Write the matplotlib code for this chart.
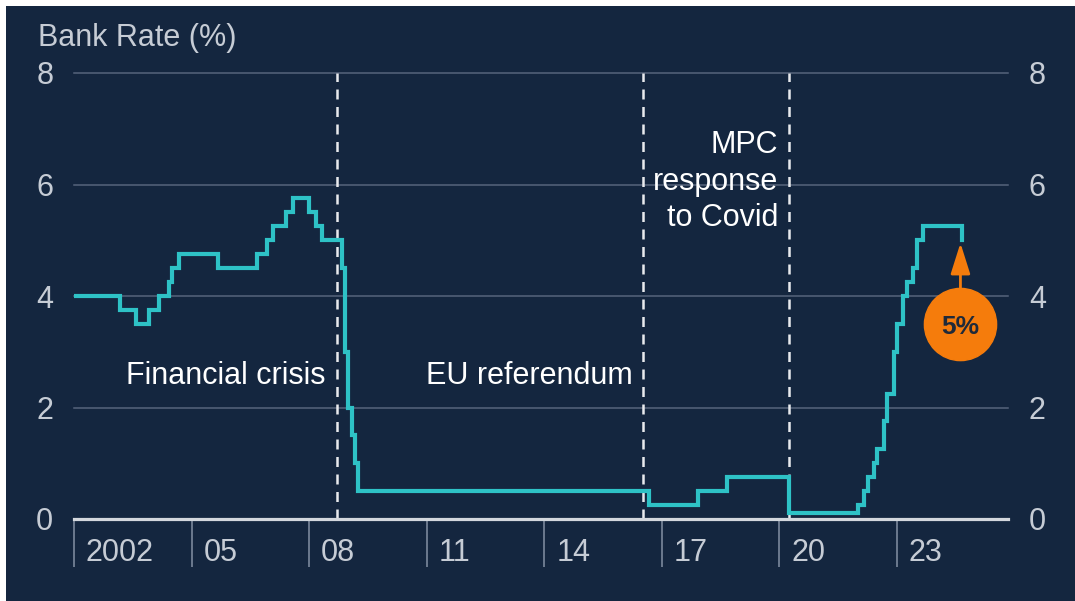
import matplotlib
matplotlib.use("Agg")
import matplotlib.pyplot as plt
from matplotlib.patches import Rectangle
import pandas as pd

plt.rcParams["font.family"] = ["Liberation Sans", "DejaVu Sans"]

BG = "#14263f"; TXT = "#c6ccd5"; LINE = "#2ec2c6"; ORANGE = "#f57c0c"

# month from which each Bank Rate level shows in the chart, and the level (%)
step_months = ["2002-01", "2003-03", "2003-08", "2003-12", "2004-03", "2004-06", "2004-07",
               "2004-09", "2005-09", "2006-09", "2006-12", "2007-02", "2007-06", "2007-08",
               "2008-01", "2008-03", "2008-05", "2008-11", "2008-12", "2009-01", "2009-02",
               "2009-03", "2009-04", "2016-09", "2017-12", "2018-09", "2020-04", "2022-01",
               "2022-03", "2022-04", "2022-06", "2022-07", "2022-09", "2022-10", "2022-12",
               "2023-01", "2023-03", "2023-04", "2023-06", "2023-07", "2023-09", "2024-09"]
rates = [4.0, 3.75, 3.5, 3.75, 4.0, 4.25, 4.5,
         4.75, 4.5, 4.75, 5.0, 5.25, 5.5, 5.75,
         5.5, 5.25, 5.0, 4.5, 3.0, 2.0, 1.5,
         1.0, 0.5, 0.25, 0.5, 0.75, 0.1, 0.25,
         0.5, 0.75, 1.0, 1.25, 1.75, 2.25, 3.0,
         3.5, 4.0, 4.25, 4.5, 5.0, 5.25, 5.0]

event_dates = ["2008-09-15", "2016-07-05", "2020-03-28"]
event_labels = ["Financial crisis", "EU referendum", "MPC\nresponse\nto Covid"]

tick_years = [2002, 2005, 2008, 2011, 2014, 2017, 2020, 2023]
tick_labels = ["2002", "05", "08", "11", "14", "17", "20", "23"]
y_ticks = [0, 2, 4, 6, 8]
latest = "5%"

def to_year(s):
    d = pd.Timestamp(s)
    return d.year + (d.dayofyear - 1) / (366 if d.is_leap_year else 365)

xs = [to_year(m + "-01") for m in step_months]
ev = [to_year(d) for d in event_dates]

fig = plt.figure(figsize=(10.75, 6.01), dpi=100, facecolor="white")
fig.patches.append(Rectangle((6 / 1075, 0), 1, 1 - 6 / 601, transform=fig.transFigure,
                             facecolor=BG, edgecolor="none", zorder=-10))
ax = fig.add_axes([74 / 1075, 82 / 601, 934 / 1075, 446 / 601])
ax.set_facecolor("none")
ax.set_xlim(2002, 2025.83); ax.set_ylim(0, 8)
for s in ax.spines.values(): s.set_visible(False)

for v in y_ticks[1:]:
    ax.axhline(v, color="#56647c", lw=1.1, clip_on=False, zorder=1)
ax.axhline(0, color="#d3d7dd", lw=2.3, clip_on=False, zorder=4)

ax.set_yticks(y_ticks)
ax.tick_params(axis="y", length=0, pad=15, labelsize=22, labelcolor=TXT,
               labelleft=True, labelright=True)
ax.set_xticks(tick_years)
ax.set_xticklabels([""] * len(tick_years))
ax.tick_params(axis="x", direction="out", length=34.5, width=1.4, color="#6c7a8f")
for yr, lab in zip(tick_years, tick_labels):
    ax.annotate(lab, xy=(yr, 0), xycoords=("data", "axes fraction"),
                xytext=(8.5, -24.5), textcoords="offset points",
                ha="left", va="center", fontsize=22, color=TXT)

for x in ev:
    ax.axvline(x, color="#e8eaee", lw=1.8, dashes=(4, 3), zorder=2)

ax.step(xs, rates, where="post", color=LINE, lw=3, zorder=3, solid_joinstyle="miter")

ax.text(ev[0] - 0.28, 2.57, event_labels[0], ha="right", va="center", fontsize=22, color="white")
ax.text(ev[1] - 0.26, 2.57, event_labels[1], ha="right", va="center", fontsize=22, color="white")
ax.text(ev[2] - 0.27, 6.05, event_labels[2], ha="right", va="center", fontsize=22,
        color="white", multialignment="right", linespacing=1.28)

cx, cy = xs[-1] - 0.05, 3.49
ax.annotate("", xy=(cx, rates[-1]), xytext=(cx, cy + 0.6),
            arrowprops=dict(arrowstyle="-|>,head_length=1.9,head_width=0.6",
                            color=ORANGE, lw=2), zorder=5)
ax.plot([cx], [cy], "o", ms=52, color=ORANGE, zorder=6, clip_on=False)
ax.text(cx, cy - 0.04, latest, ha="center", va="center", fontsize=19,
        fontweight="bold", color="#1f2a3a", zorder=7)

fig.text(38 / 1075, 1 - 38 / 601, "Bank Rate (%)", ha="left", va="center",
         fontsize=22, color=TXT)

fig.savefig("out.png", dpi=100, facecolor=fig.get_facecolor())
